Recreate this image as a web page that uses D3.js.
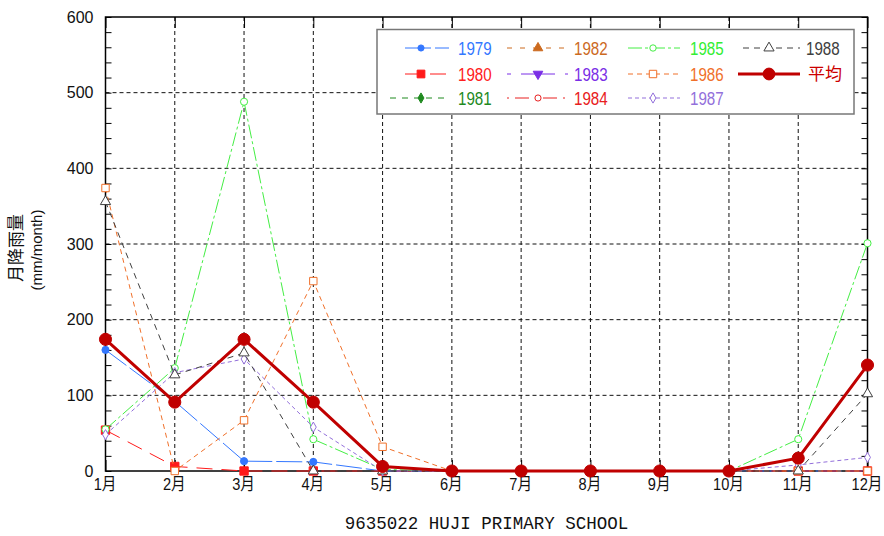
<!DOCTYPE html>
<html><head><meta charset="utf-8">
<script src="https://cdn.jsdelivr.net/npm/d3@7"></script>
<style>
html,body{margin:0;padding:0;background:#fff;}
svg{display:block;}
</style></head>
<body>
<svg id="chart" width="884" height="536"></svg>
<script>
const months = ["1月","2月","3月","4月","5月","6月","7月","8月","9月","10月","11月","12月"];
const yTicks = [0,100,200,300,400,500,600];
const seriesNames = ["1979","1980","1981","1982","1983","1984","1985","1986","1987","1988","平均"];
const v1979 = [160, 92, 13, 12, 0, 0, 0, 0, 0, 0, 0, 0];
const v1980 = [54, 6, 0, 0, 0, 0, 0, 0, 0, 0, 0, 0];
const v1981 = [null,null,null,null,null,null,null,null,null,null,null,null];
const v1982 = [null,null,null,null,null,null,null,null,null,null,null,null];
const v1983 = [null,null,null,null,null,null,null,null,null,null,null,null];
const v1984 = [null,null,null,null,null,null,null,null,null,null,null,null];
const v1985 = [55, 136, 488, 42, 2, 0, 0, 0, 0, 0, 42, 301];
const v1986 = [374, 0, 67, 251, 32, 0, 0, 0, 0, 0, 0, 0];
const v1987 = [48, 130, 148, 58, 0, 0, 0, 0, 0, 0, 8, 18];
const v1988 = [356, 127, 156, 0, 0, 0, 0, 0, 0, 0, 0, 102];
const vAvg  = [174, 91, 174, 91, 6, 0, 0, 0, 0, 0, 17, 140];
const xTitle = "9635022 HUJI PRIMARY SCHOOL";
const yTitle1 = "月降雨量";
const yTitle2 = "(mm/month)";

const values = [v1979,v1980,v1981,v1982,v1983,v1984,v1985,v1986,v1987,v1988,vAvg];
const styles = [
  {color:"#3377ff", dash:"26,4", width:1, shape:"circle", fill:true, size:40, lsize:30},
  {color:"#ff1a1a", dash:"16,9", width:1, shape:"square", fill:true, size:70, lsize:60},
  {color:"#1f8a1f", dash:"6,6", width:1, shape:"diamond", fill:true, size:30, lsize:30},
  {color:"#cc6a1f", dash:"5,8", width:1, shape:"triangle", fill:true, size:40, lsize:40},
  {color:"#7a2ee6", dash:"4,10,30,0", width:1, shape:"triangledown", fill:true, size:40, lsize:40},
  {color:"#e82020", dash:"2,6,14,6", width:1, shape:"circle", fill:false, size:30, lsize:30},
  {color:"#44ee44", dash:"14,3,3,3", width:1, shape:"circle", fill:false, size:40, lsize:32},
  {color:"#f0702a", dash:"5,4", width:1, shape:"square", fill:false, size:55, lsize:55},
  {color:"#9370db", dash:"4,3", width:1, shape:"diamond", fill:false, size:30, lsize:30},
  {color:"#404040", dash:"6,5", width:1, shape:"triangle", fill:false, size:45, lsize:45},
  {color:"#c00000", dash:null, width:3, shape:"circle", fill:true, size:115, lsize:110}
];
const textColors = ["#3377ff","#ff2020","#1f8a1f","#cc6a1f","#7a2ee6","#e82020","#33ee33","#f0702a","#9370db","#404040","#cc0000"];

const svg = d3.select("#chart");
const L = 105.5, R = 867.5, T = 17, B = 471;
const x = d3.scalePoint().domain(months).range([L, R]);
const y = d3.scaleLinear().domain([0, 600]).range([B, T]);

// grid
const g = svg.append("g");
g.selectAll(".gx").data(months.slice(1, -1)).join("line")
  .attr("x1", d => x(d)).attr("x2", d => x(d)).attr("y1", T).attr("y2", B)
  .attr("stroke", "#111").attr("stroke-dasharray", "4,3").attr("stroke-width", 1);
g.selectAll(".gy").data(yTicks.slice(1, -1)).join("line")
  .attr("x1", L).attr("x2", R).attr("y1", d => y(d)).attr("y2", d => y(d))
  .attr("stroke", "#111").attr("stroke-dasharray", "4,3").attr("stroke-width", 1);

// minor ticks on left and right
const minor = d3.range(0, 601, 20);
const leftAxis = d3.axisRight(y).tickValues(minor).tickSize(6).tickFormat("");
svg.append("g").attr("transform", `translate(${L},0)`).call(leftAxis)
  .call(a => a.select(".domain").remove())
  .selectAll("line").attr("stroke", "#000");
const rightAxis = d3.axisLeft(y).tickValues(minor).tickSize(6).tickFormat("");
svg.append("g").attr("transform", `translate(${R},0)`).call(rightAxis)
  .call(a => a.select(".domain").remove())
  .selectAll("line").attr("stroke", "#000");
const topAxis = d3.axisBottom(x).tickSize(11).tickFormat("");
svg.append("g").attr("transform", `translate(0,${T})`).call(topAxis)
  .call(a => a.select(".domain").remove())
  .selectAll("line").attr("stroke", "#000");
const botAxis = d3.axisTop(x).tickSize(11).tickFormat("");
svg.append("g").attr("transform", `translate(0,${B})`).call(botAxis)
  .call(a => a.select(".domain").remove())
  .selectAll("line").attr("stroke", "#000");

// frame
svg.append("rect").attr("x", L).attr("y", T).attr("width", R - L).attr("height", B - T)
  .attr("fill", "none").attr("stroke", "#000").attr("stroke-width", 1.5);

// tick labels
const yLab = d3.axisLeft(y).tickValues(yTicks).tickSize(0).tickPadding(12);
svg.append("g").attr("transform", `translate(${L},0)`).call(yLab)
  .call(a => a.select(".domain").remove())
  .selectAll("text").attr("font-family", "'Liberation Sans', Arial, sans-serif")
  .attr("font-size", 16).attr("fill", "#111").attr("dy", "0.32em");
const xLab = d3.axisBottom(x).tickSize(0).tickPadding(0);
const xg = svg.append("g").attr("transform", `translate(0,${B})`).call(xLab);
xg.select(".domain").remove();
xg.selectAll(".tick text")
  .attr("font-family", "'Liberation Sans', 'Noto Sans CJK JP', sans-serif")
  .attr("font-size", 17).attr("fill", "#111").attr("y", 0).attr("dy", 0)
  .attr("transform", "translate(-1,19) scale(0.86,1)");

// titles
svg.append("text").attr("x", (L + R) / 2).attr("y", 529).attr("text-anchor", "middle")
  .attr("font-family", "'Liberation Mono', 'DejaVu Sans Mono', monospace").attr("font-size", 17.5)
  .attr("fill", "#111").text(xTitle);
svg.append("text").attr("transform", "translate(22,248) rotate(-90)").attr("text-anchor", "middle")
  .attr("font-family", "'Noto Sans CJK JP', sans-serif").attr("font-size", 17).attr("fill", "#111").text(yTitle1);
svg.append("text").attr("transform", "translate(42,250) rotate(-90)").attr("text-anchor", "middle")
  .attr("font-family", "'Liberation Sans', sans-serif").attr("font-size", 15).attr("fill", "#111").text(yTitle2);

// symbols
function symPath(shape, size) {
  if (shape === "circle") return d3.symbol(d3.symbolCircle, size)();
  if (shape === "square") return d3.symbol(d3.symbolSquare, size)();
  if (shape === "diamond") return d3.symbol(d3.symbolDiamond, size)();
  return d3.symbol(d3.symbolTriangle, size)();
}
function symTransform(shape, cx, cy) {
  return `translate(${cx},${cy})` + (shape === "triangledown" ? " rotate(180)" : "");
}

// series
const line = d3.line().defined(d => d.v !== null).x(d => x(d.m)).y(d => y(d.v));
values.forEach((vals, i) => {
  const st = styles[i];
  const pts = vals.map((v, j) => ({m: months[j], v: v}));
  const sg = svg.append("g");
  sg.append("path").datum(pts).attr("d", line).attr("fill", "none")
    .attr("stroke", st.color).attr("stroke-width", st.width)
    .attr("stroke-dasharray", st.dash).attr("stroke-linejoin", "round");
  sg.selectAll("path.m").data(pts.filter(d => d.v !== null)).join("path").attr("class", "m")
    .attr("d", symPath(st.shape, st.size))
    .attr("transform", d => symTransform(st.shape, x(d.m), y(d.v)))
    .attr("fill", st.fill ? st.color : "#fff").attr("stroke", st.color).attr("stroke-width", 1);
});

// legend
const lg = svg.append("g");
lg.append("rect").attr("x", 377).attr("y", 29.5).attr("width", 477).attr("height", 84.5)
  .attr("fill", "#fff").attr("stroke", "#777").attr("stroke-width", 1.5);
const cols = [
  {x1: 405, x2: 449, mx: 421, tx: 458},
  {x1: 507, x2: 568, mx: 538, tx: 574},
  {x1: 628, x2: 680, mx: 653, tx: 690},
  {x1: 743, x2: 800, mx: 769, tx: 806}
];
const rowsY = [48, 74, 98];
seriesNames.forEach((name, i) => {
  const c = cols[Math.floor(i / 3)], ry = rowsY[i % 3];
  const st = styles[i];
  const x1 = (i === 10) ? 738 : (i === 2 ? 390 : c.x1);
  lg.append("line").attr("x1", x1).attr("x2", c.x2).attr("y1", ry).attr("y2", ry)
    .attr("stroke", st.color).attr("stroke-width", st.width).attr("stroke-dasharray", st.dash);
  lg.append("path").attr("d", symPath(st.shape, st.lsize))
    .attr("transform", symTransform(st.shape, c.mx, ry))
    .attr("fill", st.fill ? st.color : "#fff").attr("stroke", st.color).attr("stroke-width", 1);
  const tx = i === 10 ? 808 : c.tx;
  lg.append("text").attr("x", 0).attr("y", 0).attr("dy", "0.36em")
    .attr("transform", `translate(${tx},${ry}) scale(${i === 10 ? 1 : 0.82},1)`)
    .attr("font-family", "'Liberation Sans', 'Noto Sans CJK JP', sans-serif")
    .attr("font-size", i === 10 ? 17 : 18.5).attr("fill", textColors[i]).text(name);
});
</script>
</body></html>
